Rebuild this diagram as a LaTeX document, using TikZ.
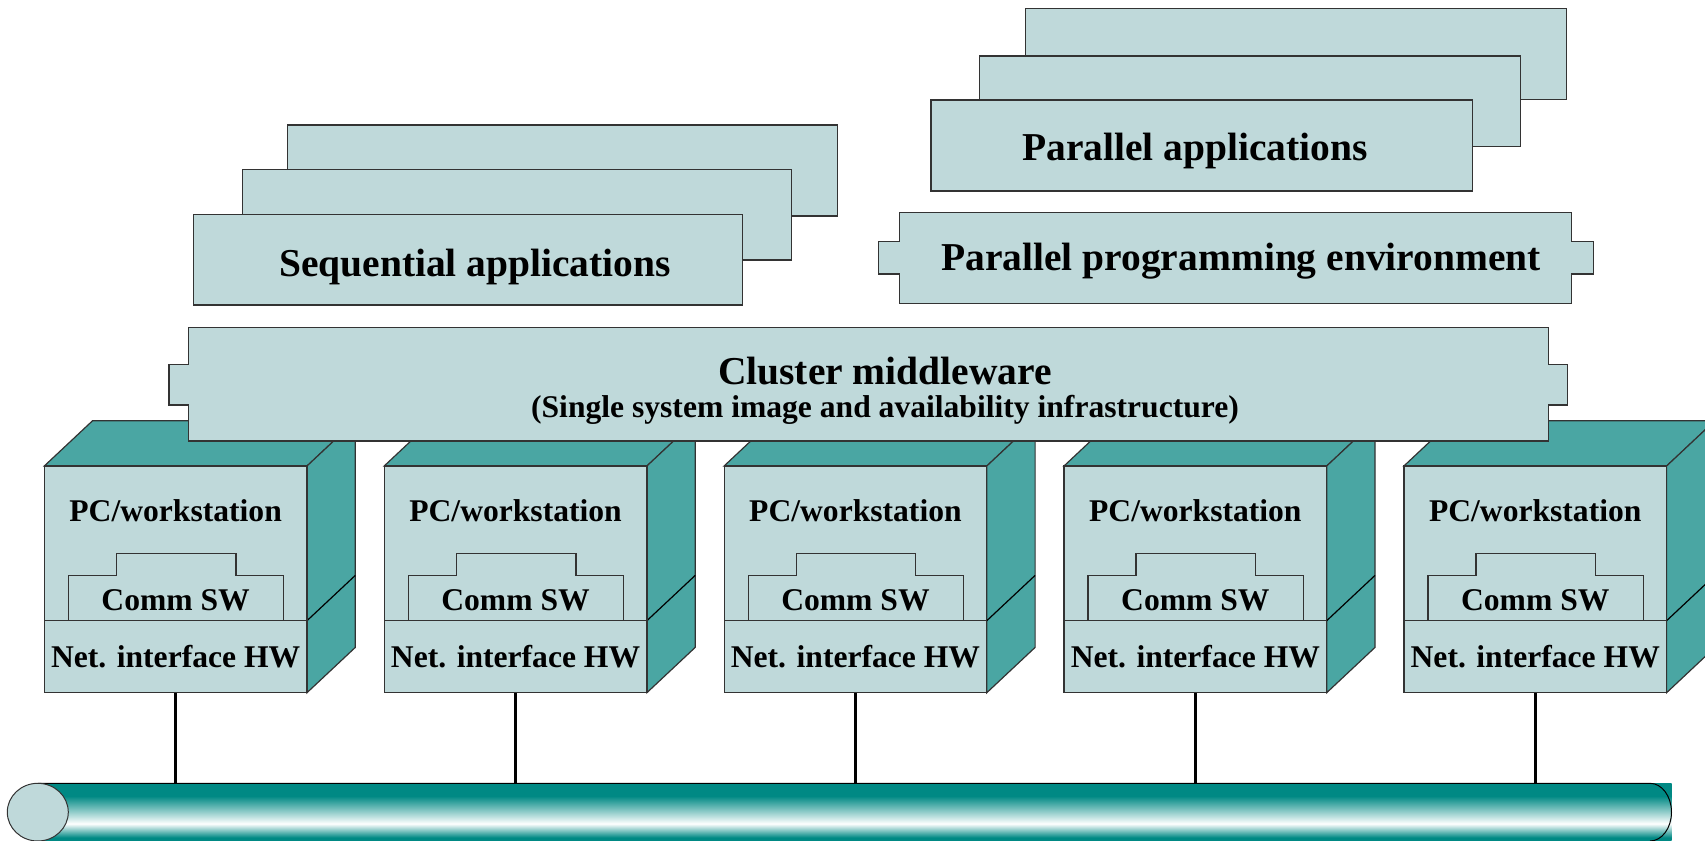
\documentclass[tikz,border=0pt]{standalone}
\usepackage{fontspec}
\setmainfont{Liberation Serif}

% sombreado del bus (blanco cerca del borde inferior)
\definecolor{busteal}{RGB}{0,137,132}
\pgfdeclareverticalshading{busshade}{100bp}{color(0bp)=(busteal); color(25bp)=(busteal);
  color(28bp)=(busteal); color(40bp)=(white); color(64bp)=(busteal); color(100bp)=(busteal)}

\begin{document}
\begin{tikzpicture}[x=0.5pt,y=-0.5pt,
    panel/.style={draw=black!80, line width=0.6pt, fill=paleteal},
    side/.style={draw=black!80, line width=0.6pt, fill=sideteal},
    big/.style={font=\fontsize{19.75}{22}\selectfont\bfseries},
    small/.style={font=\fontsize{15.8}{18}\selectfont\bfseries},
    hwbox/.style={panel, small, inner sep=0pt, minimum width=131.35pt, minimum height=36pt},
    tap/.style={line width=1.6pt}]
        % Definición de colores
        \definecolor{paleteal}{RGB}{191,217,218}
        \definecolor{sideteal}{RGB}{74,166,163}

        \useasboundingbox (0,0) rectangle (1705,841);
        \clip (0,0) rectangle (1705,841);

        % Pila de aplicaciones secuenciales
        \draw[panel] (287.7,125) rectangle (837.3,216);
        \draw[panel] (242.3,169.3) rectangle (791.7,260);
        \draw[panel] (193.3,214.3) rectangle (742.7,305);
        \node[big] (seqapp) at (475,266.5) {Sequential applications};

        % Pila de aplicaciones paralelas
        \draw[panel] (1025.7,8.7) rectangle (1566.7,99.3);
        \draw[panel] (979.3,56) rectangle (1520.7,146.7);
        \draw[panel] (931,100) rectangle (1472.3,191);
        \node[big] (parapp) at (1195,150.5) {Parallel applications};

        % Entorno de programación paralela (con pestañas)
        \draw[panel] (899.3,212.7) -- (1571.7,212.7) -- (1571.7,241.7) -- (1593.3,241.7)
            -- (1593.3,274) -- (1571.7,274) -- (1571.7,303.3) -- (899.3,303.3)
            -- (899.3,274) -- (878.3,274) -- (878.3,241.7) -- (899.3,241.7) -- cycle;
        \node[big] (ppe) at (1241,261) {Parallel programming environment};

        % Bus de la red
        \coordinate (bustop) at (0,783.3);
        \shade[shading=busshade] (37.8,783.3) rectangle (1671.7,841);
        \draw[line width=0.5pt] (37.8,783.3) -- (1650,783.3)
            arc[start angle=-90, end angle=90, x radius=21.5, y radius=28.85];
        \draw[panel, line width=0.5pt] (37.8,812.15) ellipse[x radius=30.5, y radius=28.85];

        % Nodos del cluster (cubos)
        \foreach \i in {1,...,5} {
            \pgfmathsetmacro\xa{44.3+339.9*(\i-1)}
            \draw[side] (\xa,466) -- (\xa+48.3,420.7) -- (\xa+311,420.7) -- (\xa+262.7,466) -- cycle;
            \draw[side] (\xa+262.7,466) -- (\xa+311,420.7) -- (\xa+311,647.4) -- (\xa+262.7,692.7) -- cycle;
            \draw[line width=0.6pt] (\xa+262.7,620.7) -- (\xa+311,575.4);
            \draw[panel] (\xa,466) rectangle (\xa+262.7,620.7);
            \draw[panel] (\xa+24,620.7) |- (\xa+72,575.7) |- (\xa+191.7,553.3)
                |- (\xa+239.4,575.7) -- (\xa+239.4,620.7);
            \node[small] (pc\i) at (\xa+131.35,511) {PC/workstation};
            \node[small] (sw\i) at (\xa+131.35,600) {Comm SW};
            \node[hwbox] (hw\i) at (\xa+131.35,656.7) {Net. interface HW};
            \draw[tap] (hw\i.south) -- (hw\i.south |- bustop);
        }

        % Middleware del cluster
        \draw[panel] (188.7,327.5) -- (1548.3,327.5) -- (1548.3,364.3) -- (1567.3,364.3)
            -- (1567.3,405) -- (1548.3,405) -- (1548.3,441) -- (188.7,441)
            -- (188.7,405) -- (169,405) -- (169,364.3) -- (188.7,364.3) -- cycle;
        \node[big] (mw) at (885,371) {Cluster middleware};
        \node[small] (ssi) at (885,410) {(Single system image and availability infrastructure)};

    \end{tikzpicture}
\end{document}
